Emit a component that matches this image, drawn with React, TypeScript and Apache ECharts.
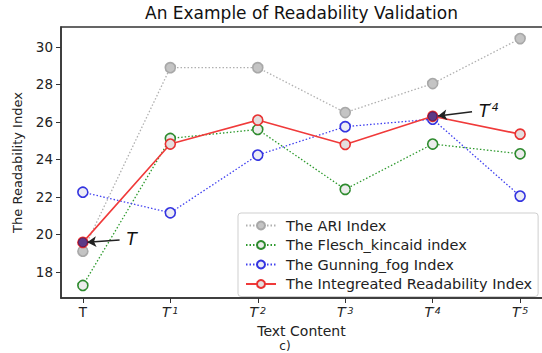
import React, { useEffect, useRef } from "react";
import * as echarts from "echarts";

const xPositions = [0, 1, 2, 3, 4, 5];
const tickLabels = ["T", "T′1", "T′2", "T′3", "T′4", "T′5"];
const yTicks = [18, 20, 22, 24, 26, 28, 30];

const ariIndex = [19.1, 28.9, 28.9, 26.5, 28.05, 30.45];
const fleschIndex = [17.27, 25.12, 25.6, 22.4, 24.82, 24.3];
const gunningIndex = [22.25, 21.15, 24.23, 25.75, 26.15, 22.04];
const integratedIndex = [19.57, 24.82, 26.1, 24.8, 26.3, 25.35];

const seriesNames = [
  "The ARI Index",
  "The Flesch_kincaid index",
  "The Gunning_fog Index",
  "The Integreated Readability Index",
];

const highlighted = [0, 4];
const FONT = "DejaVu Sans";

function richTick(label: string, big: boolean) {
  if (label.length === 1) return big ? `{it|${label}}` : `{up|${label}}`;
  return `{it|${label[0]}}{sup|${label.slice(1)}}`;
}

export default function App() {
  const ref = useRef<HTMLDivElement>(null);
  useEffect(() => {
    if (!ref.current) return;
    const chart = echarts.init(ref.current, undefined, { renderer: "svg" });
    const pts = (vals: number[]) => xPositions.map((x, i) => [x, vals[i]]);

    const mk = (
      name: string,
      vals: number[],
      line: string,
      fill: string,
      border: string,
      dotted: boolean,
      extra: any = {}
    ) => ({
      name,
      type: "line",
      data: pts(vals),
      symbol: "circle",
      symbolSize: 10,
      lineStyle: {
        color: line,
        width: dotted ? 1.3 : 1.6,
        type: dotted ? [1.5, 2] : "solid",
      },
      itemStyle: { color: fill, borderColor: border, borderWidth: 1.6 },
      z: 3,
      ...extra,
    });

    const labelRich = {
      it: { fontFamily: FONT, fontStyle: "italic", fontSize: 17, color: "#111" },
      sup: { fontFamily: FONT, fontStyle: "italic", fontSize: 11, color: "#111", verticalAlign: "top" },
    };

    chart.setOption({
      animation: false,
      title: {
        text: "An Example of Readability Validation",
        left: 140,
        top: -1,
        textStyle: { fontFamily: FONT, fontSize: 17, fontWeight: "normal", color: "#111" },
      },
      grid: { left: 61, right: -3, top: 27, bottom: 55 },
      legend: {
        data: seriesNames,
        orient: "vertical",
        left: 238,
        top: 213,
        itemWidth: 30,
        itemHeight: 10,
        itemGap: 4.5,
        padding: [5, 6, 5, 7],
        backgroundColor: "rgba(255,255,255,0.9)",
        borderColor: "#cfcfcf",
        borderWidth: 1,
        borderRadius: 3,
        textStyle: { fontFamily: FONT, fontSize: 14.5, color: "#222", padding: [0, 0, 0, 5] },
      },
      xAxis: {
        type: "value",
        min: -0.25,
        max: 5.25,
        name: "Text Content",
        nameLocation: "middle",
        nameGap: 24,
        nameTextStyle: { fontFamily: FONT, fontSize: 14, color: "#222" },
        axisLine: { onZero: false, lineStyle: { color: "#333", width: 1.5 } },
        axisTick: { customValues: xPositions, length: 5, lineStyle: { color: "#333" } },
        splitLine: { show: false },
        axisLabel: {
          customValues: xPositions,
          margin: 7,
          formatter: (v: number) => richTick(tickLabels[Math.round(v)], false),
          rich: {
            up: { fontFamily: FONT, fontSize: 13.5, color: "#222" },
            it: { fontFamily: FONT, fontStyle: "italic", fontSize: 13.5, color: "#222" },
            sup: { fontFamily: FONT, fontStyle: "italic", fontSize: 9.5, color: "#222", verticalAlign: "top" },
          },
        },
      },
      yAxis: {
        type: "value",
        min: 16.6,
        max: 31.07,
        name: "The Readability Index",
        nameLocation: "middle",
        nameGap: 37,
        nameTextStyle: { fontFamily: FONT, fontSize: 13, color: "#222" },
        axisLine: { show: true, onZero: false, lineStyle: { color: "#333", width: 1.5 } },
        axisTick: { show: true, customValues: yTicks, length: 5, lineStyle: { color: "#333" } },
        splitLine: { show: false },
        axisLabel: {
          customValues: yTicks,
          margin: 8,
          fontFamily: FONT,
          fontSize: 13.5,
          color: "#222",
        },
      },
      graphic: [
        {
          type: "rect",
          shape: { x: 61, y: 27, width: 484, height: 271 },
          style: { fill: "none", stroke: "#333", lineWidth: 1.5 },
          silent: true,
          z: 0,
        },
        {
          type: "text",
          x: 285,
          y: 346,
          style: { text: "c)", fontFamily: FONT, fontSize: 12, fill: "#222", align: "center", verticalAlign: "middle" },
        },
      ],
      series: [
        mk(seriesNames[0], ariIndex, "#b0b0b0", "#c4c4c4", "#a8a8a8", true),
        mk(seriesNames[1], fleschIndex, "#2e9a2e", "#ececec", "#2e8b2e", true),
        mk(seriesNames[2], gunningIndex, "#4040f0", "#ececf4", "#3434e0", true),
        mk(seriesNames[3], integratedIndex, "#f03a3a", "#e4dede", "#e83232", false, { z: 4 }),
        {
          name: "highlight",
          type: "scatter",
          data: highlighted.map((i) => [xPositions[i], integratedIndex[i]]),
          symbolSize: 9,
          itemStyle: { color: "#3a1070", borderColor: "#5a1050", borderWidth: 1 },
          z: 6,
          markLine: {
            silent: true,
            symbol: ["none", "arrow"],
            symbolSize: [8, 9],
            lineStyle: { color: "#222", width: 1.5, type: "solid" },
            label: {
              show: true,
              position: "start",
              distance: 7,
              formatter: (p: any) => p.name,
              rich: labelRich,
            },
            data: [
              [
                { name: richTick(tickLabels[0], true), coord: [0.42, 19.7] },
                { coord: [0.05, 19.58] },
              ],
              [
                { name: richTick(tickLabels[4], true), coord: [4.45, 26.55] },
                { coord: [4.06, 26.32] },
              ],
            ],
          },
        },
      ],
    });
    return () => chart.dispose();
  }, []);
  return (
    <div
      ref={ref}
      style={{ position: "absolute", left: 0, top: 0, width: 542, height: 353 }}
    />
  );
}
